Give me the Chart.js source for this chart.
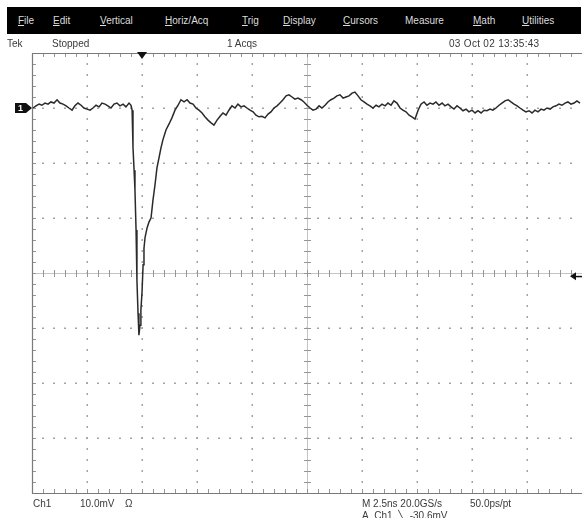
<!DOCTYPE html>
<html>
<head>
<meta charset="utf-8">
<script src="https://cdn.jsdelivr.net/npm/chart.js@4"></script>
<style>
  html, body { margin:0; padding:0; background:#fff; }
  #wrap { position:relative; width:582px; height:518px; overflow:hidden; background:#fff; font-family:"Liberation Sans", Arial, sans-serif; }
  #c { position:absolute; left:0; top:0; }
  .menubar { position:absolute; left:7px; top:7px; width:574px; height:27px; background:#000; }
  .mi { position:absolute; top:8px; color:#dcdcdc; font-size:10px; line-height:11px; white-space:nowrap; }
  .t { position:absolute; color:#3a3a3a; font-size:10px; line-height:11px; white-space:nowrap; }
</style>
</head>
<body>
<div id="wrap">
  <canvas id="c" width="582" height="518"></canvas>
  <div class="menubar" id="menubar"></div>
  <div class="t" style="left:7px;top:38px;">Tek</div>
  <div class="t" style="left:52px;top:38px;">Stopped</div>
  <div class="t" style="left:227px;top:38px;">1 Acqs</div>
  <div class="t" style="left:449px;top:38px;letter-spacing:0.3px;">03 Oct 02 13:35:43</div>
  <div class="t" style="left:33px;top:498px;">Ch1</div>
  <div class="t" style="left:80px;top:498px;">10.0mV</div>
  <div class="t" style="left:125px;top:498px;">&Omega;</div>
  <div class="t" style="left:362px;top:498px;">M 2.5ns 20.0GS/s</div>
  <div class="t" style="left:470px;top:498px;">50.0ps/pt</div>
  <div class="t" style="left:362px;top:510px;">A&nbsp; Ch1 &nbsp;<span style="font-family:'DejaVu Sans'">&#x2572;</span>&nbsp; -30.6mV</div>
</div>
<script>
// ---- data (time in ns, voltage in mV relative to screen centre) ----
const menuItems = ["File","Edit","Vertical","Horiz/Acq","Trig","Display","Cursors","Measure","Math","Utilities"];
const menuLeft  = [11, 46, 93, 158, 235, 276, 336, 398, 466, 515];

const timeNs = [
 0.05,0.18,0.32,0.45,0.59,0.73,0.86,1.00,1.14,1.27,1.41,1.55,1.68,1.82,1.95,2.09,2.23,2.36,2.50,2.64,
 2.77,2.91,3.05,3.18,3.32,3.45,3.59,3.73,3.86,4.00,4.14,4.27,4.41,4.50,4.55,4.59,4.64,4.68,4.73,4.77,
 4.82,4.86,4.91,4.95,5.00,5.05,5.09,5.14,5.23,5.32,5.41,5.50,5.59,5.68,5.77,5.86,5.95,6.09,6.23,6.36,
 6.50,6.64,6.77,6.91,7.05,7.18,7.32,7.45,7.59,7.73,7.86,8.00,8.14,8.27,8.41,8.55,8.68,8.82,8.95,9.09,
 9.23,9.36,9.50,9.64,9.77,9.91,10.05,10.18,10.32,10.45,10.59,10.73,10.86,11.00,11.14,11.27,11.41,11.55,11.68,11.82,
 11.95,12.09,12.23,12.36,12.50,12.64,12.77,12.91,13.05,13.18,13.32,13.45,13.59,13.73,13.86,14.00,14.14,14.27,14.41,14.55,
 14.68,14.82,14.95,15.09,15.23,15.36,15.50,15.64,15.77,15.91,16.05,16.18,16.32,16.45,16.59,16.73,16.86,17.00,17.14,17.27,
 17.41,17.55,17.68,17.82,17.95,18.09,18.23,18.36,18.50,18.64,18.77,18.91,19.05,19.18,19.32,19.45,19.59,19.73,19.86,20.00,
 20.14,20.27,20.41,20.55,20.68,20.82,20.95,21.09,21.23,21.36,21.50,21.64,21.77,21.91,22.05,22.18,22.32,22.45,22.59,22.73,
 22.86,23.00,23.14,23.27,23.41,23.55,23.68,23.82,23.95,24.09,24.23,24.36,24.50,24.64,24.77,24.91
];
const voltsMv = [
 30.0,30.4,30.7,30.5,30.9,30.7,31.1,30.9,31.5,30.9,30.7,30.4,30.0,29.6,30.4,30.9,30.5,30.0,29.8,29.6,
 30.0,30.5,30.2,30.9,30.7,30.4,30.0,30.7,30.9,30.4,30.7,30.2,30.9,30.5,29.6,22.9,18.7,15.1,7.8,-1.3,
 -7.3,-11.3,-9.5,-6.7,-3.6,1.5,4.5,6.5,8.2,9.3,10.0,13.3,16.0,19.1,20.9,22.7,24.2,26.0,27.1,28.2,
 29.6,30.5,31.5,31.1,31.5,30.9,30.7,30.0,29.6,29.1,28.4,27.8,27.3,26.9,27.8,28.5,29.1,28.7,29.6,30.4,
 30.0,30.7,30.2,30.4,30.0,29.6,29.3,28.7,28.4,28.5,28.2,28.9,29.3,30.0,30.4,30.9,31.5,32.2,32.4,32.0,
 31.6,31.8,31.5,31.1,30.5,30.0,29.6,29.8,30.4,30.0,30.5,31.1,31.5,31.8,32.2,32.4,31.8,32.0,32.2,32.7,
 32.9,32.2,31.5,31.1,30.7,30.4,30.0,30.5,30.2,30.7,30.4,30.9,30.5,31.3,30.9,30.0,29.6,29.3,28.7,28.4,
 28.0,29.6,30.7,31.1,30.5,30.9,30.7,31.1,30.5,30.9,30.4,30.7,30.2,29.8,30.4,30.0,29.5,29.8,29.3,29.6,
 29.1,29.5,29.1,29.6,29.5,29.8,29.6,30.0,30.5,30.9,31.3,31.5,31.1,30.7,30.4,30.0,29.6,29.3,29.5,29.1,
 29.6,29.3,29.8,29.6,30.0,29.8,30.2,30.4,30.7,30.5,30.9,31.1,30.7,30.9,31.3,30.9
];

const timePerDiv = 2.5;     // ns/div
const voltPerDiv = 10;      // mV/div
const xDivs = 10, yDivs = 8, subDivs = 5;
const triggerTimeNs = 5.0;
const groundMv = 30.0;
const triggerLevelMv = groundMv - 30.6;

// menu bar
const mb = document.getElementById('menubar');
menuItems.forEach((m, i) => {
  const d = document.createElement('div');
  d.className = 'mi';
  d.style.left = (menuLeft[i]) + 'px';
  d.innerHTML = (m === 'Measure') ? m : '<u>' + m[0] + '</u>' + m.slice(1);
  mb.appendChild(d);
});

const graticule = {
  id: 'graticule',
  beforeDatasetsDraw(chart) {
    const ctx = chart.ctx;
    const xs = chart.scales.x, ys = chart.scales.y;
    const { left, top, right, bottom } = chart.chartArea;
    const xMin = 0, xMax = xDivs * timePerDiv, yMin = -yDivs / 2 * voltPerDiv, yMax = yDivs / 2 * voltPerDiv;
    const xMinor = timePerDiv / subDivs, yMinor = voltPerDiv / subDivs;
    const cx = Math.round(xs.getPixelForValue((xMin + xMax) / 2));
    const cy = Math.round(ys.getPixelForValue(0));
    ctx.save();
    // dotted division lines
    ctx.fillStyle = '#a4a4a4';
    for (let d = 1; d < xDivs; d++) {
      if (d === xDivs / 2) continue;
      const px = Math.round(xs.getPixelForValue(d * timePerDiv));
      for (let v = yMin + yMinor; v < yMax; v += yMinor) {
        const py = Math.round(ys.getPixelForValue(v));
        ctx.fillRect(px - 0.5, py - 1, 1.5, 2);
      }
    }
    for (let d = 1; d < yDivs; d++) {
      if (d === yDivs / 2) continue;
      const py = Math.round(ys.getPixelForValue(yMin + d * voltPerDiv));
      for (let t = xMin + xMinor; t < xMax; t += xMinor) {
        const px = Math.round(xs.getPixelForValue(t));
        ctx.fillRect(px - 1, py - 0.5, 2, 1.5);
      }
    }
    // centre lines
    ctx.strokeStyle = '#c4c4c4';
    ctx.lineWidth = 1;
    ctx.beginPath();
    ctx.moveTo(cx + 0.5, top); ctx.lineTo(cx + 0.5, bottom);
    ctx.moveTo(left, cy + 0.5); ctx.lineTo(right, cy + 0.5);
    ctx.stroke();
    ctx.strokeStyle = '#959595';
    ctx.beginPath();
    for (let t = xMin + xMinor; t < xMax; t += xMinor) {
      const px = Math.round(xs.getPixelForValue(t)) + 0.5;
      ctx.moveTo(px, cy - 3); ctx.lineTo(px, cy + 4);
      ctx.moveTo(px, top); ctx.lineTo(px, top + 4);
      ctx.moveTo(px, bottom); ctx.lineTo(px, bottom - 4);
    }
    for (let v = yMin + yMinor; v < yMax; v += yMinor) {
      const py = Math.round(ys.getPixelForValue(v)) + 0.5;
      ctx.moveTo(cx - 3, py); ctx.lineTo(cx + 4, py);
      ctx.moveTo(left, py); ctx.lineTo(left + 4, py);
    }
    ctx.stroke();
    // border
    ctx.strokeStyle = '#7a7a7a';
    ctx.lineWidth = 1.2;
    ctx.beginPath();
    ctx.moveTo(right, top + 0.5); ctx.lineTo(left + 0.5, top + 0.5);
    ctx.lineTo(left + 0.5, bottom + 0.5); ctx.lineTo(right, bottom + 0.5);
    ctx.stroke();
    ctx.restore();
  },
  afterDatasetsDraw(chart) {
    const ctx = chart.ctx;
    const xs = chart.scales.x, ys = chart.scales.y;
    const { left, top, right } = chart.chartArea;
    ctx.save();
    ctx.fillStyle = '#111';
    const tx = xs.getPixelForValue(triggerTimeNs);
    ctx.beginPath();
    ctx.moveTo(tx - 5, top - 1); ctx.lineTo(tx + 5, top - 1); ctx.lineTo(tx, top + 6);
    ctx.closePath(); ctx.fill();
    const gy = ys.getPixelForValue(groundMv);
    ctx.fillRect(left - 17, gy - 5, 11, 10);
    ctx.beginPath();
    ctx.moveTo(left - 6, gy - 5); ctx.lineTo(left, gy); ctx.lineTo(left - 6, gy + 5);
    ctx.closePath(); ctx.fill();
    ctx.fillStyle = '#fff';
    ctx.font = 'bold 9px "Liberation Sans", Arial, sans-serif';
    ctx.textAlign = 'center'; ctx.textBaseline = 'middle';
    ctx.fillText('1', left - 11.5, gy + 0.5);
    const ty = ys.getPixelForValue(triggerLevelMv);
    ctx.fillStyle = '#111';
    ctx.beginPath();
    ctx.moveTo(right - 12, ty); ctx.lineTo(right - 6, ty - 4); ctx.lineTo(right - 6, ty + 4);
    ctx.closePath(); ctx.fill();
    ctx.fillRect(right - 7, ty - 0.5, 7, 1.5);
    ctx.restore();
  }
};

new Chart(document.getElementById('c'), {
  type: 'line',
  data: {
    datasets: [{
      label: 'Ch1',
      data: timeNs.map((t, i) => ({ x: t, y: voltsMv[i] })),
      borderColor: '#2a2a2a',
      borderWidth: 1.5,
      pointRadius: 0,
      tension: 0,
      fill: false
    }]
  },
  options: {
    responsive: false,
    animation: false,
    devicePixelRatio: 1,
    layout: { padding: { left: 32, top: 53, right: 0, bottom: 25 } },
    scales: {
      x: { type: 'linear', min: 0, max: xDivs * timePerDiv, display: false },
      y: { type: 'linear', min: -yDivs / 2 * voltPerDiv, max: yDivs / 2 * voltPerDiv, display: false }
    },
    plugins: { legend: { display: false }, tooltip: { enabled: false } }
  },
  plugins: [graticule]
});
</script>
</body>
</html>
